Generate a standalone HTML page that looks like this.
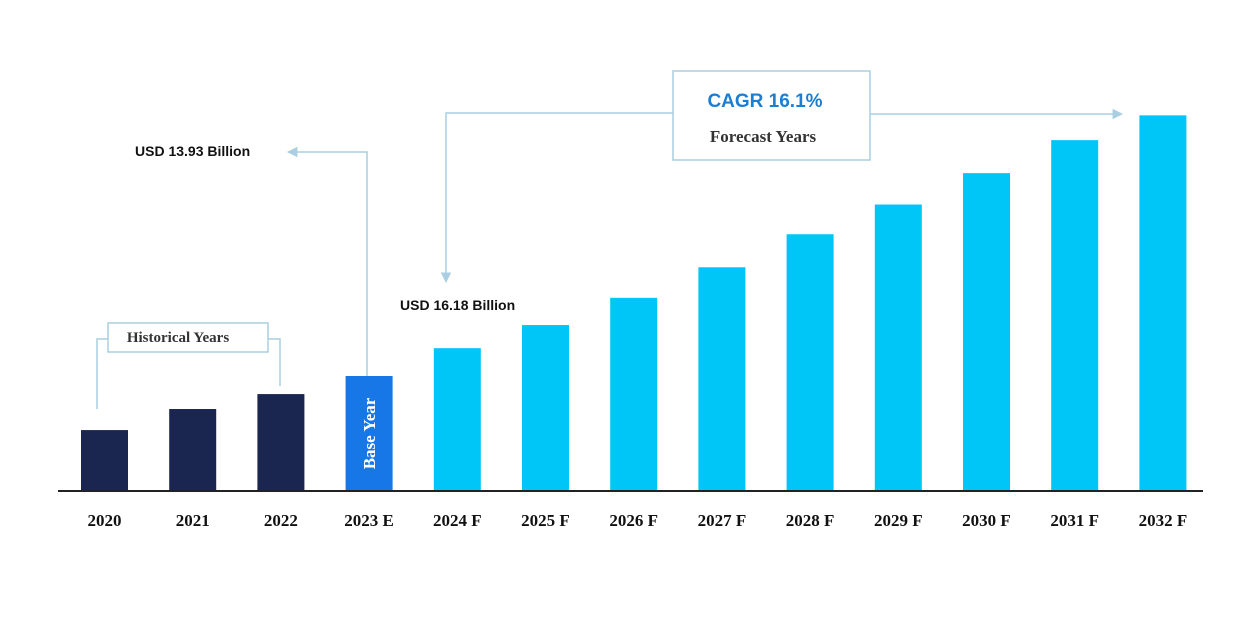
<!DOCTYPE html>
<html><head><meta charset="utf-8"><style>
body{margin:0;background:#fff;}
svg text{font-family:"Liberation Serif",serif;}
</style></head><body>
<svg id="chart" width="1250" height="634" viewBox="0 0 1250 634" xmlns="http://www.w3.org/2000/svg">
<defs><marker id="ah" viewBox="0 0 10 10" refX="9" refY="5" markerWidth="7" markerHeight="7" orient="auto"><path d="M0,0 L10,5 L0,10 z" fill="#a9cfe0"/></marker></defs>
<g id="bars"></g>
<g id="labels"></g>
<line x1="58" y1="491" x2="1203" y2="491" stroke="#222" stroke-width="2"/>
<g fill="none" stroke="#a9cfe0" stroke-width="1.5">
<polyline points="97,409 97,339 108,339"/><polyline points="268,339 280,339 280,386"/>
<rect x="108" y="323" width="160" height="29"/>
</g>
<text x="178" y="342" text-anchor="middle" font-size="15" font-weight="bold" fill="#333">Historical Years</text>
<polyline points="367,376 367,152 288,152" fill="none" stroke="#a9cfe0" stroke-width="1.5" marker-end="url(#ah)"/>
<text x="135" y="156" font-size="14" font-weight="bold" style="font-family:'Liberation Sans',sans-serif" fill="#111">USD 13.93 Billion</text>
<polyline points="673,113 446,113 446,282" fill="none" stroke="#a9cfe0" stroke-width="1.5" marker-end="url(#ah)"/>
<line x1="870" y1="114" x2="1122" y2="114" stroke="#a9cfe0" stroke-width="1.5" marker-end="url(#ah)"/>
<rect x="673" y="71" width="197" height="89" fill="#fff" stroke="#a9cfe0" stroke-width="1.5"/>
<text x="765" y="107" text-anchor="middle" font-size="19" font-weight="bold" style="font-family:'Liberation Sans',sans-serif" fill="#1a7fd4">CAGR 16.1%</text>
<text x="763" y="142" text-anchor="middle" font-size="17" font-weight="bold" fill="#333">Forecast Years</text>
<text x="400" y="310" font-size="14" font-weight="bold" style="font-family:'Liberation Sans',sans-serif" fill="#111">USD 16.18 Billion</text>
</svg>
<script>
const categories=["2020","2021","2022","2023 E","2024 F","2025 F","2026 F","2027 F","2028 F","2029 F","2030 F","2031 F","2032 F"];
const values=[7.38,9.93,11.74,13.93,17.3,20.1,23.4,27.1,31.1,34.7,38.5,42.5,45.5];
const kinds=["hist","hist","hist","base","f","f","f","f","f","f","f","f","f"];
const NS="http://www.w3.org/2000/svg";
const baseY=491, pxPer=115/13.93, x0=104.5, step=88.2, bw=47;
const xs=i=>x0+i*step;
const ys=v=>baseY-v*pxPer;
const colors={hist:"#1a2550",base:"#1877e6",f:"#00c5f7"};
const gb=document.getElementById('bars'), gl=document.getElementById('labels');
categories.forEach((c,i)=>{
  const r=document.createElementNS(NS,'rect');
  
  
  r.setAttribute('x',xs(i)-bw/2);r.setAttribute('y',ys(values[i]));
  r.setAttribute('width',bw);r.setAttribute('height',baseY-ys(values[i]));
  r.setAttribute('fill',colors[kinds[i]]);gb.appendChild(r);
  const t=document.createElementNS(NS,'text');
  
  
  t.setAttribute('x',xs(i));t.setAttribute('y',526);t.setAttribute('text-anchor','middle');
  t.setAttribute('font-size','17');t.setAttribute('font-weight','bold');t.setAttribute('fill','#111');
  t.textContent=c;gl.appendChild(t);
  if(kinds[i]==="base"){
    const b=document.createElementNS(NS,'text');
    
    
    const cx=xs(i)+6, cy=(ys(values[i])+baseY)/2;
    b.setAttribute('transform','translate('+cx+','+cy+') rotate(-90)');
    b.setAttribute('text-anchor','middle');b.setAttribute('font-size','17');
    b.setAttribute('font-weight','bold');b.setAttribute('fill','#fff');
    b.textContent='Base Year';gb.appendChild(b);
  }
});
</script>
</body></html>
